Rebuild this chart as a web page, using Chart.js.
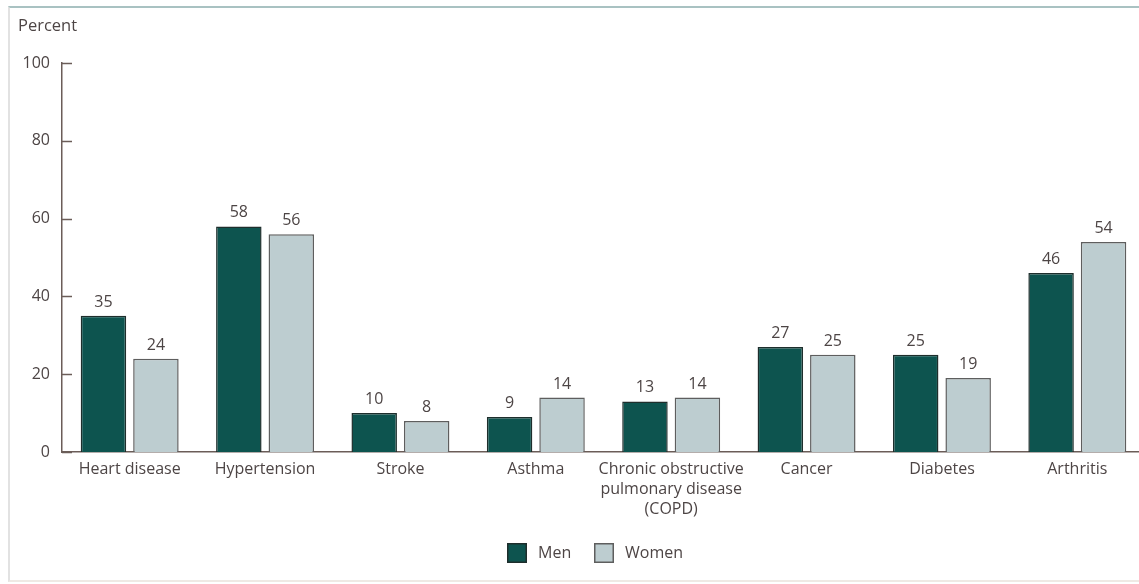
<!DOCTYPE html>
<html>
<head>
<meta charset="utf-8">
<script src="https://cdn.jsdelivr.net/npm/chart.js@4.4.1/dist/chart.umd.min.js"></script>
<style>
  html, body { margin: 0; padding: 0; background: #ffffff; }
  body { width: 1139px; height: 584px; overflow: hidden; position: relative; }
  #frame { position: absolute; left: 8px; top: 6px; width: 1140px; height: 572px;
           border-top: 2px solid #a9c2c2; border-left: 2px solid #e2e2e2; border-bottom: 2px solid #efe9e4; }
  #wrap { position: absolute; left: 0; top: 0; width: 1200px; height: 584px; }
</style>
</head>
<body>
<div id="frame"></div>
<div id="wrap"><canvas id="c" width="1200" height="584"></canvas></div>
<script>
const categories = ["Heart disease", "Hypertension", "Stroke", "Asthma",
  ["Chronic obstructive", "pulmonary disease", "(COPD)"], "Cancer", "Diabetes", "Arthritis"];
const menValues = [35, 58, 10, 9, 13, 27, 25, 46];
const womenValues = [24, 56, 8, 14, 14, 25, 19, 54];
const yTicks = [0, 20, 40, 60, 80, 100];
const seriesNames = ["Men", "Women"];

const FONT = "'Open Sans', 'Noto Sans', sans-serif";
const TEXT = "#4d4545";
const AXIS = "#6b5d58";

const annotations = {
  id: 'annotations',
  afterDraw(chart) {
    const ctx = chart.ctx;
    const y = chart.scales.y;
    const area = chart.chartArea;
    ctx.save();
    // inward tick marks
    ctx.strokeStyle = AXIS;
    ctx.lineWidth = 1.5;
    yTicks.forEach(v => {
      const py = Math.round(y.getPixelForValue(v)) + 0.5;
      ctx.beginPath();
      ctx.moveTo(area.left, py);
      ctx.lineTo(area.left + 10, py);
      ctx.stroke();
    });
    // axis title
    ctx.fillStyle = TEXT;
    ctx.font = "16.5px " + FONT;
    ctx.textAlign = 'left';
    ctx.textBaseline = 'middle';
    ctx.fillText("Percent", 18, 26);
    // value labels
    ctx.font = "16px " + FONT;
    ctx.textAlign = 'center';
    ctx.textBaseline = 'alphabetic';
    chart.data.datasets.forEach((ds, di) => {
      const meta = chart.getDatasetMeta(di);
      meta.data.forEach((bar, i) => {
        ctx.fillText(String(ds.data[i]), bar.x, bar.y - 9);
      });
    });
    // legend
    const items = [{ x: 507 }, { x: 594 }];
    const cy = 553;
    ctx.font = "16px " + FONT;
    ctx.textAlign = 'left';
    ctx.textBaseline = 'middle';
    chart.data.datasets.forEach((ds, di) => {
      const bx = items[di].x;
      ctx.fillStyle = ds.backgroundColor;
      ctx.fillRect(bx, cy - 10, 20, 20);
      ctx.strokeStyle = ds.borderColor;
      ctx.lineWidth = 1.5;
      ctx.strokeRect(bx + 0.75, cy - 9.25, 18.5, 18.5);
      ctx.fillStyle = TEXT;
      ctx.fillText(ds.label, bx + 31, cy);
    });
    ctx.restore();
  }
};

new Chart(document.getElementById('c'), {
  type: 'bar',
  data: {
    labels: categories,
    datasets: [
      { label: seriesNames[0], data: menValues, backgroundColor: '#0d544f',
        borderColor: '#1e2e2c', borderWidth: 1.5, borderSkipped: 'bottom' },
      { label: seriesNames[1], data: womenValues, backgroundColor: '#bdcdd0',
        borderColor: '#5e5e5e', borderWidth: 1.5, borderSkipped: 'bottom' }
    ]
  },
  options: {
    responsive: false,
    animation: false,
    devicePixelRatio: 1,
    layout: { padding: { left: 0, right: 55, top: 63, bottom: 0 } },
    datasets: { bar: { categoryPercentage: 0.775, barPercentage: 0.867 } },
    plugins: {
      legend: { display: false },
      tooltip: { enabled: false }
    },
    scales: {
      x: {
        grid: { display: false, drawTicks: false },
        border: { display: true, color: AXIS, width: 1.5 },
        ticks: { color: TEXT, padding: 7, maxRotation: 0, autoSkip: false,
                 font: { family: FONT, size: 16, lineHeight: 1.25 } },
        afterFit(scale) { scale.height = 132; }
      },
      y: {
        min: 0, max: 100,
        grid: { display: false, drawTicks: false },
        border: { display: true, color: AXIS, width: 1.5 },
        ticks: { color: TEXT, padding: 12, stepSize: 20, font: { family: FONT, size: 16 } },
        afterFit(scale) { scale.width = 62; }
      }
    }
  },
  plugins: [annotations]
});
</script>
</body>
</html>
